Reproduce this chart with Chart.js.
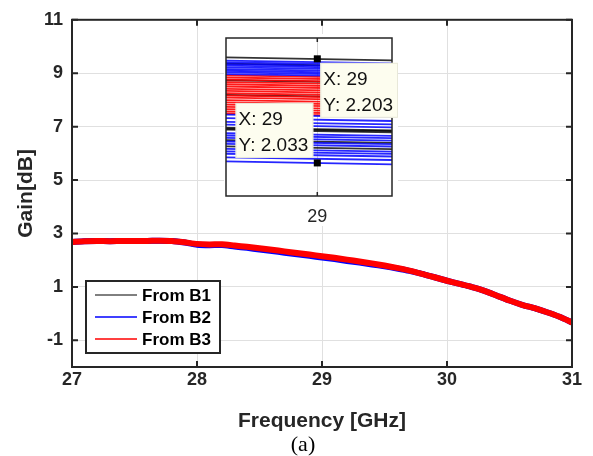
<!DOCTYPE html>
<html>
<head>
<meta charset="utf-8">
<script src="https://cdn.jsdelivr.net/npm/chart.js@4.4.1/dist/chart.umd.min.js"></script>
<style>
  html, body { margin: 0; padding: 0; background: #fff; }
  #wrap { position: relative; width: 593px; height: 456px; }
  #mainChart { position: absolute; left: 0; top: 0; }
  #insetChart { position: absolute; left: 224px; top: 34px; }
</style>
</head>
<body>
<div id="wrap">
  <canvas id="mainChart" width="593" height="456"></canvas>
  <canvas id="insetChart" width="174" height="192"></canvas>
</div>
<script>
(function () {
    // main plot
    const freqs = [27.0, 27.1, 27.2, 27.3, 27.4, 27.5, 27.6, 27.7, 27.8, 27.9,
                   28.0, 28.1, 28.2, 28.3, 28.4, 28.5, 28.6, 28.7, 28.8, 28.9,
                   29.0, 29.1, 29.2, 29.3, 29.4, 29.5, 29.6, 29.7, 29.8, 29.9,
                   30.0, 30.1, 30.2, 30.3, 30.4, 30.5, 30.6, 30.7, 30.8, 30.9, 31.0];
    const gainB1 = [2.68, 2.71, 2.72, 2.71, 2.72, 2.72, 2.72, 2.73, 2.72, 2.67,
                    2.59, 2.57, 2.58, 2.52, 2.47, 2.42, 2.36, 2.30, 2.24, 2.18,
                    2.12, 2.06, 1.99, 1.92, 1.85, 1.78, 1.70, 1.61, 1.49, 1.36,
                    1.23, 1.11, 0.99, 0.85, 0.67, 0.49, 0.33, 0.20, 0.05, -0.12, -0.33];
    const gainB2 = [2.68, 2.71, 2.72, 2.71, 2.72, 2.72, 2.72, 2.73, 2.72, 2.66,
                    2.58, 2.56, 2.57, 2.51, 2.46, 2.40, 2.34, 2.28, 2.22, 2.16,
                    2.10, 2.04, 1.97, 1.91, 1.84, 1.77, 1.69, 1.60, 1.49, 1.36,
                    1.23, 1.11, 0.99, 0.85, 0.67, 0.49, 0.33, 0.20, 0.05, -0.12, -0.33];
    const gainB3 = [2.68, 2.71, 2.72, 2.71, 2.72, 2.72, 2.72, 2.73, 2.72, 2.67,
                    2.61, 2.59, 2.60, 2.55, 2.50, 2.45, 2.39, 2.33, 2.27, 2.21,
                    2.15, 2.09, 2.02, 1.95, 1.88, 1.80, 1.71, 1.61, 1.49, 1.36,
                    1.23, 1.11, 0.99, 0.85, 0.67, 0.49, 0.33, 0.20, 0.05, -0.12, -0.33];
    const xTicks = [27, 28, 29, 30, 31];
    const yTicks = [-1, 1, 3, 5, 7, 9, 11];
    const seriesNames = ['From B1', 'From B2', 'From B3'];
    const seriesColors = ['#000000', '#0000ff', '#ff0000'];

    // zoomed inset near 29 GHz: each line from left edge value to right edge value
    const insetXRange = [28.989, 29.009];
    const insetXTicks = [29];
    const insetB1Start = [2.2055, 2.1950, 2.1680, 2.1440, 2.0905, 2.0890, 2.0875, 2.0700, 2.0600];
    const insetB1End   = [2.2005, 2.1905, 2.1638, 2.1395, 2.0860, 2.0848, 2.0830, 2.0658, 2.0555];
    const insetB2Start = [2.2000, 2.1972, 2.1945, 2.1918, 2.1890, 2.1862, 2.1835, 2.1808, 2.1780,
                          2.1120, 2.1060, 2.1000, 2.0955, 2.0815, 2.0778, 2.0740, 2.0680, 2.0640,
                          2.0560, 2.0520, 2.0480, 2.0420, 2.0355];
    const insetB2End   = [2.1955, 2.1930, 2.1900, 2.1875, 2.1848, 2.1820, 2.1790, 2.1765, 2.1738,
                          2.1078, 2.1015, 2.0958, 2.0910, 2.0772, 2.0735, 2.0695, 2.0638, 2.0598,
                          2.0515, 2.0478, 2.0435, 2.0378, 2.0305];
    const insetB3Start = [2.1760, 2.1725, 2.1690, 2.1650, 2.1615, 2.1578, 2.1540, 2.1505, 2.1468,
                          2.1430, 2.1395, 2.1355, 2.1320, 2.1282, 2.1245, 2.1208, 2.1170, 2.1135];
    const insetB3End   = [2.1715, 2.1682, 2.1645, 2.1608, 2.1570, 2.1535, 2.1498, 2.1460, 2.1425,
                          2.1388, 2.1350, 2.1312, 2.1275, 2.1240, 2.1200, 2.1165, 2.1128, 2.1090];
    const dataTips = [{ x: 29, y: 2.203 }, { x: 29, y: 2.033 }];

    const axisColor = '#262626';
    const sans = 'Liberation Sans, Arial, Helvetica, sans-serif';

    function toPoints(ys) {
        return freqs.map((f, i) => ({ x: f, y: ys[i] }));
    }

    // frame + inward ticks on all four sides, MATLAB style
    const framePlugin = {
        id: 'frame',
        afterDraw(chart, args, opts) {
            const { ctx, chartArea: a, scales } = chart;
            const len = opts.tickLength;
            ctx.save();
            ctx.strokeStyle = axisColor;
            ctx.lineWidth = opts.lineWidth;
            ctx.strokeRect(a.left, a.top, a.right - a.left, a.bottom - a.top);
            ctx.beginPath();
            scales.x.ticks.forEach(t => {
                const px = scales.x.getPixelForValue(t.value);
                ctx.moveTo(px, a.bottom); ctx.lineTo(px, a.bottom - len);
                ctx.moveTo(px, a.top); ctx.lineTo(px, a.top + len);
            });
            if (scales.y.options.display) {
                scales.y.ticks.forEach(t => {
                    const py = scales.y.getPixelForValue(t.value);
                    ctx.moveTo(a.left, py); ctx.lineTo(a.left + len, py);
                    ctx.moveTo(a.right, py); ctx.lineTo(a.right - len, py);
                });
            }
            ctx.stroke();
            ctx.restore();
        }
    };

    const legendPlugin = {
        id: 'boxLegend',
        afterDraw(chart) {
            const { ctx, chartArea: a } = chart;
            const x0 = a.left + 14, y0 = a.bottom - 86, w = 134, h = 72;
            ctx.save();
            ctx.fillStyle = '#fff';
            ctx.fillRect(x0, y0, w, h);
            ctx.strokeStyle = axisColor;
            ctx.lineWidth = 2;
            ctx.strokeRect(x0, y0, w, h);
            ctx.font = 'bold 17px ' + sans;
            ctx.textBaseline = 'middle';
            seriesNames.forEach((name, i) => {
                const y = y0 + 14 + i * 22;
                ctx.strokeStyle = seriesColors[i];
                ctx.lineWidth = i === 0 ? 1 : 1.5;
                ctx.beginPath();
                ctx.moveTo(x0 + 9, y);
                ctx.lineTo(x0 + 51, y);
                ctx.stroke();
                ctx.fillStyle = '#000';
                ctx.fillText(name, x0 + 56, y + 1);
            });
            ctx.restore();
        }
    };

    const captionPlugin = {
        id: 'caption',
        afterDraw(chart) {
            const ctx = chart.ctx;
            ctx.save();
            ctx.font = '22px Liberation Serif, Times New Roman, serif';
            ctx.fillStyle = '#000';
            ctx.textAlign = 'center';
            ctx.textBaseline = 'middle';
            ctx.fillText('(a)', 303, 445);
            ctx.restore();
        }
    };

    new Chart(document.getElementById('mainChart').getContext('2d'), {
        type: 'line',
        data: {
            datasets: seriesNames.map((name, i) => ({
                label: name,
                data: toPoints([gainB1, gainB2, gainB3][i]),
                borderColor: seriesColors[i],
                borderWidth: i === 0 ? 5 : 6,
                pointRadius: 0,
                tension: 0.2,
                order: 3 - i
            }))
        },
        options: {
            responsive: false,
            animation: false,
            layout: { padding: { left: 0, right: 21, top: 15, bottom: 0 } },
            plugins: {
                legend: { display: false },
                tooltip: { enabled: false },
                frame: { tickLength: 6, lineWidth: 2 }
            },
            scales: {
                x: {
                    type: 'linear', min: 27, max: 31,
                    afterBuildTicks: s => { s.ticks = xTicks.map(v => ({ value: v })); },
                    afterFit: s => { s.height = 89; },
                    grid: { color: '#e0e0e0', drawTicks: false },
                    border: { display: false },
                    ticks: { color: axisColor, padding: 2, maxRotation: 0,
                             font: { family: sans, size: 18, weight: 'bold' } },
                    title: { display: true, text: 'Frequency [GHz]', color: axisColor,
                             font: { family: sans, size: 21, weight: 'bold' },
                             padding: { top: 0, bottom: 22 } }
                },
                y: {
                    min: -2, max: 11,
                    afterBuildTicks: s => { s.ticks = yTicks.map(v => ({ value: v })); },
                    afterFit: s => { s.width = 72; },
                    grid: { color: '#e0e0e0', drawTicks: false },
                    border: { display: false },
                    ticks: { color: axisColor, padding: 9,
                             font: { family: sans, size: 18, weight: 'bold' } },
                    title: { display: true, text: 'Gain[dB]', color: axisColor,
                             font: { family: sans, size: 21, weight: 'bold' },
                             padding: { top: 14, bottom: 0 } }
                }
            }
        },
        plugins: [framePlugin, legendPlugin, captionPlugin]
    });

    // inset
    function insetLines(starts, ends, color) {
        return starts.map((s, i) => ({
            data: [{ x: insetXRange[0], y: s }, { x: insetXRange[1], y: ends[i] }],
            borderColor: color,
            borderWidth: 1.8,
            pointRadius: 0
        }));
    }

    const whiteBg = {
        id: 'whiteBg',
        beforeDraw(chart) {
            const ctx = chart.ctx;
            ctx.save();
            ctx.fillStyle = '#fff';
            ctx.fillRect(0, 0, chart.width, chart.height);
            ctx.restore();
        }
    };

    const dataTipPlugin = {
        id: 'dataTips',
        afterDraw(chart) {
            const { ctx, scales } = chart;
            ctx.save();
            ctx.font = '19px ' + sans;
            ctx.textBaseline = 'middle';
            dataTips.forEach((tip, i) => {
                const px = scales.x.getPixelForValue(tip.x);
                const py = scales.y.getPixelForValue(tip.y);
                const lines = ['X: ' + tip.x, 'Y: ' + tip.y.toFixed(3)];
                const w = Math.max(...lines.map(l => ctx.measureText(l).width)) + 8;
                const h = 55;
                const bx = i === 0 ? px + 3 : px - 4 - w;
                const by = i === 0 ? py + 4 : py - 5 - h;
                ctx.fillStyle = '#fdfdef';
                ctx.fillRect(bx, by, w, h);
                ctx.strokeStyle = '#e8e8d8';
                ctx.lineWidth = 1;
                ctx.strokeRect(bx + 0.5, by + 0.5, w - 1, h - 1);
                ctx.fillStyle = '#111';
                ctx.fillText(lines[0], bx + 3, by + 17);
                ctx.fillText(lines[1], bx + 3, by + 43);
                ctx.fillStyle = '#000';
                ctx.fillRect(px - 3.5, py - 3.5, 7, 7);
            });
            ctx.restore();
        }
    };

    new Chart(document.getElementById('insetChart').getContext('2d'), {
        type: 'line',
        data: {
            datasets: [
                ...insetLines(insetB2Start, insetB2End, 'rgba(0,0,255,0.85)'),
                ...insetLines(insetB3Start, insetB3End, 'rgba(255,0,0,0.9)'),
                ...insetLines(insetB1Start, insetB1End, 'rgba(0,0,0,0.8)')
            ]
        },
        options: {
            responsive: false,
            animation: false,
            layout: { padding: { left: 2, right: 6, top: 4, bottom: 0 } },
            plugins: {
                legend: { display: false },
                tooltip: { enabled: false },
                frame: { tickLength: 4, lineWidth: 1.5 }
            },
            scales: {
                x: {
                    type: 'linear', min: insetXRange[0], max: insetXRange[1],
                    afterBuildTicks: s => { s.ticks = insetXTicks.map(v => ({ value: v })); },
                    afterFit: s => { s.height = 30; },
                    grid: { color: '#d4d4d4', drawTicks: false },
                    border: { display: false },
                    ticks: { color: axisColor, padding: 10, maxRotation: 0,
                             font: { family: sans, size: 18 } }
                },
                y: { display: false, min: 1.979, max: 2.237 }
            }
        },
        plugins: [whiteBg, framePlugin, dataTipPlugin]
    });
})();
</script>
</body>
</html>
